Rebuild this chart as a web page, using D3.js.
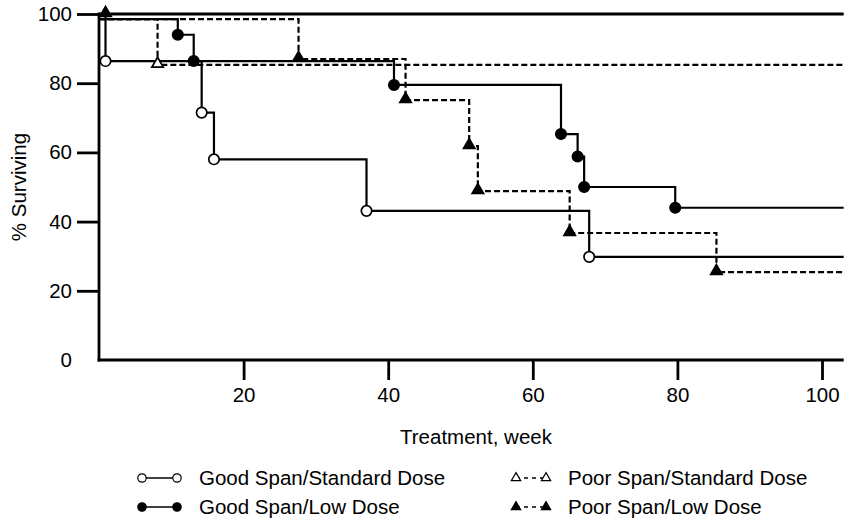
<!DOCTYPE html>
<html>
<head>
<meta charset="utf-8">
<script src="https://cdn.jsdelivr.net/npm/d3@7"></script>
<style>
  html, body { margin: 0; padding: 0; background: #fff; }
  svg { display: block; font-family: "Liberation Sans", Arial, Helvetica, sans-serif; }
</style>
</head>
<body>
<svg id="chart" width="844" height="522"></svg>
<script>
// ---------- data ----------
const xTicks = [20, 40, 60, 80, 100];
const yTicks = [0, 20, 40, 60, 80, 100];
const xLabel = "Treatment, week";
const yLabel = "% Surviving";

const seriesNames = ["Good Span/Standard Dose", "Good Span/Low Dose", "Poor Span/Standard Dose", "Poor Span/Low Dose"];

const gssdWeeks = [0, 0.9, 14.2, 15.9, 37, 67.8, 103];
const gssdSurv  = [100, 86.4, 71.5, 58, 43.1, 29.8, 29.8];

const gsldWeeks = [0, 10.9, 13.1, 40.8, 63.9, 66.2, 67.1, 79.7, 103];
const gsldSurv  = [98.5, 94, 86.4, 79.5, 65.3, 58.8, 50, 44, 44];

const pssdWeeks = [0, 8.1, 103];
const pssdSurv  = [98.5, 85.3, 85.3];

const psldWeeks = [0, 27.6, 42.4, 51.2, 52.4, 65.1, 85.4, 103];
const psldSurv  = [98.5, 87, 75.1, 61.8, 48.8, 36.7, 25.4, 25.4];
const psldStartWeek = [0.9];
const psldStartSurv = [100];

const xMaxWeek = 103;

// ---------- layout ----------
const FS = 20.5;
const svg = d3.select("#chart");
const x = d3.scaleLinear().domain([0, 100]).range([99, 822]);
const y = d3.scaleLinear().domain([0, 100]).range([360, 14]);

const series = [
  { name: seriesNames[0], weeks: gssdWeeks, surv: gssdSurv, dashed: false, shape: "circle", filled: false },
  { name: seriesNames[1], weeks: gsldWeeks, surv: gsldSurv, dashed: false, shape: "circle", filled: true },
  { name: seriesNames[2], weeks: pssdWeeks, surv: pssdSurv, dashed: true, shape: "triangle", filled: false },
  { name: seriesNames[3], weeks: psldWeeks, surv: psldSurv, dashed: true, shape: "triangle", filled: true,
    extraW: psldStartWeek, extraS: psldStartSurv }
];

const line = d3.line().x(d => x(d[0])).y(d => y(d[1])).curve(d3.curveStepAfter);

const plot = svg.append("g");

// step curves
series.forEach(s => {
  const pts = s.weeks.map((w, i) => [w, s.surv[i]]);
  plot.append("path")
    .attr("d", line(pts))
    .attr("fill", "none")
    .attr("stroke", "#000")
    .attr("stroke-width", 2.2)
    .attr("stroke-dasharray", s.dashed ? "6,3" : null);
});

// markers
const circleSym = d3.symbol().type(d3.symbolCircle).size(85);
const triSym = d3.symbol().type(d3.symbolTriangle).size(56);
function drawMarker(g, s, cx, cy, sym) {
  g.append("path")
    .attr("d", sym)
    .attr("transform", `translate(${cx},${cy})`)
    .attr("fill", s.filled ? "#000" : "#fff")
    .attr("stroke", "#000")
    .attr("stroke-width", 1.7);
}
series.forEach(s => {
  const sym = s.shape === "circle" ? circleSym() : triSym();
  const pts = s.weeks.map((w, i) => [w, s.surv[i]]).slice(1, -1);
  if (s.extraW) s.extraW.forEach((w, i) => pts.push([w, s.extraS[i]]));
  pts.forEach(p => {
    const dy = s.shape === "triangle" ? -1 : 0;
    drawMarker(plot, s, x(p[0]), y(p[1]) + dy, sym);
  });
});

// axes
const axG = svg.append("g");
axG.append("line")
  .attr("x1", x(0)).attr("x2", x(xMaxWeek))
  .attr("y1", y(100)).attr("y2", y(100))
  .attr("stroke", "#000").attr("stroke-width", 2.8);
const xAxis = d3.axisBottom(x).tickValues(xTicks).tickSize(20).tickPadding(7).tickFormat(d3.format("d"));
const gx = svg.append("g").attr("transform", `translate(0,${y(0)})`).call(xAxis);
gx.select(".domain").remove();
gx.selectAll(".tick line").attr("stroke", "#000").attr("stroke-width", 2.8);
gx.selectAll(".tick text").attr("font-size", FS).attr("fill", "#000")
  .attr("font-family", "Liberation Sans, Arial, sans-serif");
axG.append("line")
  .attr("x1", x(0) - 1.4).attr("x2", x(xMaxWeek))
  .attr("y1", y(0)).attr("y2", y(0))
  .attr("stroke", "#000").attr("stroke-width", 2.8);
const yAxis = d3.axisLeft(y).tickValues(yTicks).tickSize(22).tickPadding(5).tickFormat(d3.format("d"));
const gy = svg.append("g").attr("transform", `translate(${x(0)},0)`).call(yAxis);
gy.select(".domain").remove();
gy.selectAll(".tick line").attr("stroke", "#000").attr("stroke-width", 2.8)
  .filter(d => d === 0).remove();
gy.selectAll(".tick text").attr("font-size", FS).attr("fill", "#000")
  .attr("font-family", "Liberation Sans, Arial, sans-serif");
axG.append("line")
  .attr("x1", x(0)).attr("x2", x(0))
  .attr("y1", y(100) - 1.4).attr("y2", y(0) + 1.4)
  .attr("stroke", "#000").attr("stroke-width", 2.8);

// axis titles
svg.append("text")
  .attr("x", 476).attr("y", 444)
  .attr("text-anchor", "middle")
  .attr("font-size", FS)
  .text(xLabel);
svg.append("text")
  .attr("transform", `translate(26,${(y(0) + y(100)) / 2}) rotate(-90)`)
  .attr("text-anchor", "middle")
  .attr("font-size", FS)
  .text(yLabel);

// legend
const legendPos = [
  { x1: 142, x2: 177, tx: 199, y: 478 },
  { x1: 142, x2: 177, tx: 199, y: 507 },
  { x1: 516, x2: 546, tx: 568, y: 478 },
  { x1: 516, x2: 546, tx: 568, y: 507 }
];
const legCircle = d3.symbol().type(d3.symbolCircle).size(55);
const legTri = d3.symbol().type(d3.symbolTriangle).size(38);
series.forEach((s, i) => {
  const p = legendPos[i];
  const g = svg.append("g");
  g.append("line")
    .attr("x1", p.x1).attr("x2", p.x2).attr("y1", p.y).attr("y2", p.y)
    .attr("stroke", "#000").attr("stroke-width", 1.5)
    .attr("stroke-dasharray", s.dashed ? "4,4" : null);
  const sym = s.shape === "circle" ? legCircle() : legTri();
  [p.x1, p.x2].forEach(cx => {
    g.append("path").attr("d", sym)
      .attr("transform", `translate(${cx},${p.y})`)
      .attr("fill", s.filled ? "#000" : "#fff")
      .attr("stroke", "#000").attr("stroke-width", 1.2);
  });
  g.append("text")
    .attr("x", p.tx).attr("y", p.y + 7)
    .attr("font-size", FS)
    .text(s.name);
});
</script>
</body>
</html>
